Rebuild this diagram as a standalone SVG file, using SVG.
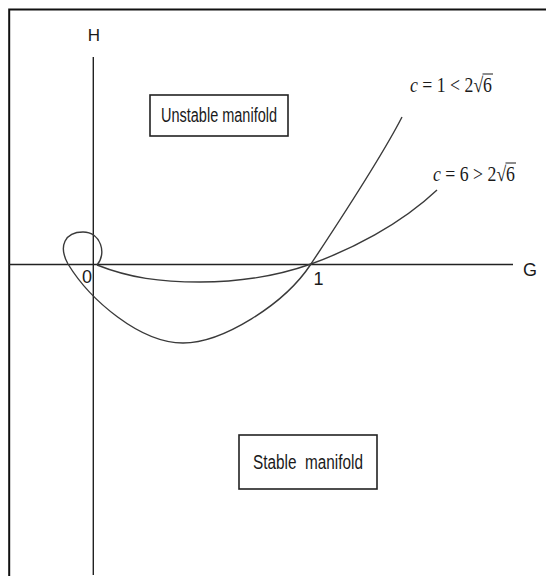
<svg xmlns="http://www.w3.org/2000/svg" width="546" height="576" viewBox="0 0 546 576">
<style>
.frame{fill:none;stroke:#111;stroke-width:2}
.axis{fill:none;stroke:#222;stroke-width:1.4}
.curve{fill:none;stroke:#3a3a3a;stroke-width:1.4}
.box{fill:#fff;stroke:#222;stroke-width:1.6}
.lbl{font-family:"Liberation Sans Narrow","Liberation Sans",Arial,sans-serif;fill:#1a1a1a}
.math{font-family:"Liberation Serif","DejaVu Serif",serif;fill:#1a1a1a;font-size:21px}
</style>
<rect width="546" height="576" fill="#fff"/>
<path class="frame" d="M9.2,577 V9.5 H547"/>
<g id="axes">
<line class="axis" x1="93.3" y1="57" x2="93.3" y2="575"/>
<line class="axis" x1="9" y1="264.5" x2="513" y2="264.5"/>
<text class="lbl" x="94" y="41" font-size="17" text-anchor="middle">H</text>
<text class="lbl" x="530" y="275.5" font-size="18" text-anchor="middle">G</text>
<text class="lbl" x="87" y="283" font-size="18" text-anchor="middle">0</text>
<text class="lbl" x="318.5" y="285" font-size="18" text-anchor="middle">1</text>
</g>
<g id="curves">
<path id="curve-c1" class="curve" d="M402,117 C380,160 340,220 311,264 C284,305 222,343 183,343 C140,343 90,300 68,264 C58,246 65,232 83,232 C101,232 107,254 97,265"/>
<path id="curve-c6" class="curve" d="M97,265 C130,278 160,282 200,282 C245,282 280,275 311,264 C350,250 400,225 437,190"/>
</g>
<g id="label-c1">
<text class="math" x="410" y="91.5" textLength="82" lengthAdjust="spacingAndGlyphs"><tspan font-style="italic">c</tspan> = 1 &lt; 2√6</text>
<line x1="482.5" y1="74" x2="493" y2="74" stroke="#1a1a1a" stroke-width="1"/>
</g>
<g id="label-c6">
<text class="math" x="433" y="180.5" textLength="82" lengthAdjust="spacingAndGlyphs"><tspan font-style="italic">c</tspan> = 6 &gt; 2√6</text>
<line x1="505.5" y1="163" x2="516" y2="163" stroke="#1a1a1a" stroke-width="1"/>
</g>
<g id="unstable">
<rect class="box" x="150" y="95" width="138" height="41"/>
<text class="lbl" x="161" y="122" font-size="20" textLength="116" lengthAdjust="spacingAndGlyphs">Unstable manifold</text>
</g>
<g id="stable">
<rect class="box" x="239" y="435" width="138" height="54"/>
<text class="lbl" x="253" y="469" font-size="20" textLength="110" lengthAdjust="spacingAndGlyphs" xml:space="preserve">Stable  manifold</text>
</g>
</svg>
